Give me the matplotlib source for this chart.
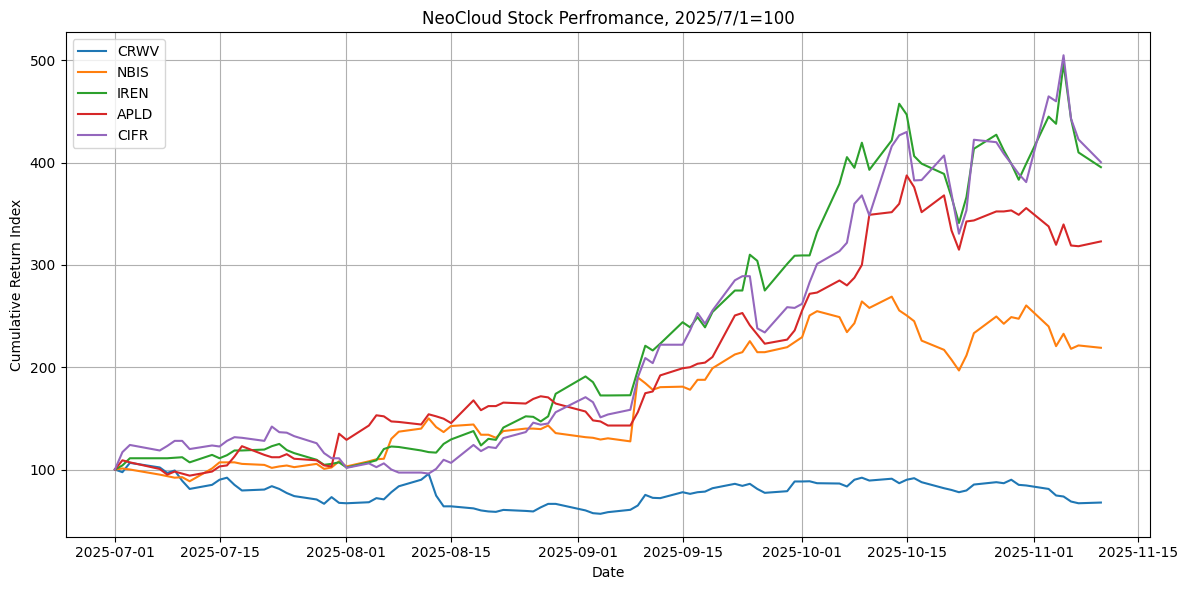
import pandas as pd
import matplotlib
matplotlib.use("Agg")
import matplotlib.pyplot as plt

# trading days 2025-07-01 .. 2025-11-10 (US market holidays skipped)
holidays = ["2025-07-04", "2025-09-01"]
dates = pd.bdate_range("2025-07-01", "2025-11-10", freq="C", holidays=holidays)

crwv = [100, 97.4, 106.5, 102, 96.7, 99, 89, 81, 85, 90, 92, 85, 79.5, 80.4, 83.7, 81, 77, 74, 70.7, 66.5, 73, 67.4,
        67, 68, 72, 70.8, 77.8, 83.6, 90, 95.8, 74.5, 64, 64, 62, 60, 59, 58.6, 60.5, 59.5, 59, 63, 66.4, 66.4,
        60, 57.3, 56.7, 58.3, 60.6, 64.8, 75.2, 72.3, 72, 77.8, 76.2, 77.8, 78.4, 81.7, 86, 84, 86, 81, 77.2, 78.8, 88.3,
        88.3, 88.5, 86.6, 86.3, 83.4, 90, 92, 89.2, 91, 86.6, 90, 91.5, 87.6, 81.7, 80, 77.8, 79.5, 85.3, 87.6, 86.6, 90, 85, 84.4,
        81, 74.6, 73.6, 68.7, 67, 67.7]

nbis = [100, 101, 100, 95, 93.5, 92, 92.5, 88.5, 101, 107, 107, 107, 105.5, 104.5, 101.6, 103, 103.9, 102.3, 105.5, 100.6, 102, 108,
        103, 108, 110, 110.5, 130, 137, 140, 150, 141.5, 136.6, 142.5, 144, 134, 134, 131, 137.6, 140, 140, 139.5, 143, 135.6,
        131.6, 131, 129.3, 130.5, 127.5, 190, 184.4, 178, 180.5, 181, 178, 187.7, 187.7, 199, 212.5, 214.7, 225.5, 214.7, 214.7, 219.6, 224.5,
        229.4, 250.6, 254.8, 249, 234.3, 243, 264.3, 258, 269, 255.5, 250.6, 245, 226, 217, 207.3, 196.8, 211.5, 233.3, 249.6, 242.5, 249, 247.4, 260.4,
        239.9, 220.6, 232.7, 218, 221.3, 219]

iren = [100, 104, 111, 111, 111, 111.5, 112, 107, 114.3, 111, 114, 118.6, 118.6, 119.5, 122.8, 125, 119, 116, 109.5, 104.6, 105.5, 107,
        102, 107, 109, 120, 122.5, 122, 118.6, 117, 116.5, 125, 129.4, 137.6, 123.5, 130, 129, 141, 152, 151.5, 147, 152, 174,
        191, 185.4, 172.4, 172.4, 172.6, 197, 221, 216.4, 223, 244, 239, 249, 239, 254, 275, 275, 310, 304, 275, 301, 309,
        309.3, 309.3, 332, 379.4, 405.4, 395, 419.5, 393, 421.8, 457.6, 447, 406.4, 399, 389, 366.3, 341, 366.3, 413.6, 427.3, 412, 399, 383.3, 399,
        445, 438, 496.8, 443, 410, 395.6]

apld = [100, 109, 107, 100.5, 95, 98, 96, 94, 98, 103, 104, 112.7, 122.8, 114.3, 112, 112, 115, 110.5, 109, 104, 103, 135,
        129, 143, 153, 152, 147, 146.5, 144, 154, 152, 149.7, 145.4, 167.6, 158, 162, 162, 165.4, 164.5, 169, 171.6, 170.5, 164.5,
        156.7, 148, 147, 143, 143, 156, 174.6, 176.3, 192, 199, 200, 203.4, 204.5, 210, 250.6, 253, 241, 232, 223, 227, 236,
        255.5, 271.8, 273, 284.8, 280, 287.5, 300, 349, 351.6, 359.8, 387.5, 376, 351.6, 368, 333.7, 314.9, 342.5, 343.5, 352.3, 352.3, 353.3, 349, 355.6,
        337.7, 319.7, 339.6, 319, 318.3, 323]

cifr = [100, 117, 124, 118.6, 123, 128, 128, 120, 123.5, 122.5, 128, 131.6, 131, 128, 142, 136.5, 136, 132.6, 125.7, 116, 111, 111,
        101.6, 106, 102.3, 106, 100, 97, 97, 96, 100.6, 109.5, 106.5, 124, 118, 122, 121, 130.7, 136.6, 145.8, 143.8, 145, 156,
        170.7, 165.8, 151, 153.8, 158.4, 190, 209, 204, 222, 222, 236, 253, 242.5, 255.5, 285, 289, 289, 238, 234, 258.7, 258,
        262, 283, 301, 313.5, 321.7, 359.8, 368, 348.4, 416, 426.7, 430, 382.6, 383, 407, 369.6, 330.5, 353.3, 422.4, 420, 408.7, 399, 389, 381,
        464.8, 460, 505, 443, 422.7, 400.5]

tickers = ["CRWV", "NBIS", "IREN", "APLD", "CIFR"]
df = pd.DataFrame({"CRWV": crwv, "NBIS": nbis, "IREN": iren, "APLD": apld, "CIFR": cifr}, index=dates)

fig, ax = plt.subplots(figsize=(12, 6), dpi=100)
for t in tickers:
    ax.plot(df.index, df[t], label=t)

ax.set_title("NeoCloud Stock Perfromance, 2025/7/1=100")
ax.set_xlabel("Date")
ax.set_ylabel("Cumulative Return Index")
ax.grid(True)
ax.legend(loc="upper left")

plt.tight_layout()
plt.savefig("out.png", dpi=100, bbox_inches="tight")
